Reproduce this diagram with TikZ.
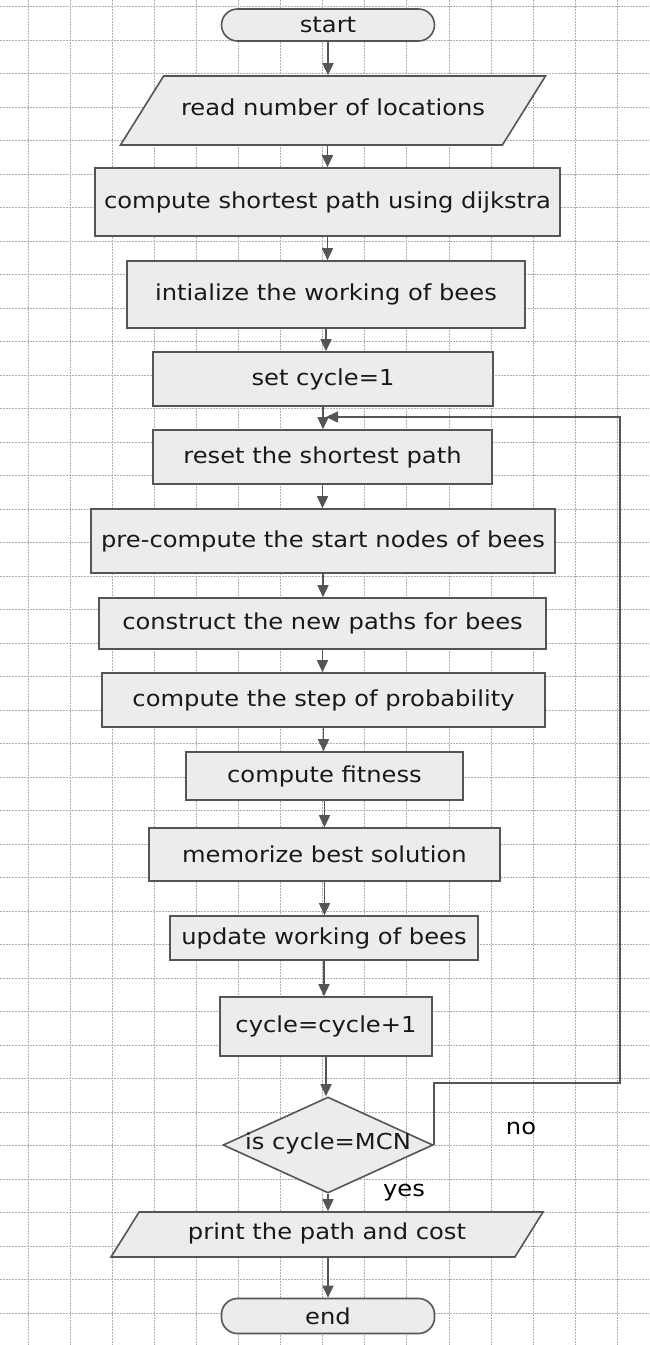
\documentclass[tikz,border=0pt]{standalone}
\usepackage{fontspec}
\setmainfont[FakeStretch=1.1]{DejaVu Sans}
\usetikzlibrary{shapes.geometric,arrows.meta}

\definecolor{boxline}{RGB}{85,85,85}
\definecolor{boxfill}{RGB}{236,236,236}
\definecolor{gridgray}{RGB}{175,175,175}

\tikzset{
  flowbox/.style={draw=boxline, line width=1.6pt, fill=boxfill, rectangle, inner sep=0pt, text=black!90},
  termbox/.style={flowbox, rounded corners=16pt, minimum width=213pt},
  iobox/.style={flowbox, trapezium, trapezium left angle=58, trapezium right angle=122, trapezium stretches body,
    inner xsep=0pt, text height=15pt, text depth=5pt},
  testbox/.style={flowbox, diamond, shape aspect=2.19, text height=12pt, text depth=3pt, minimum width=210pt, minimum height=96pt},
  flowarrow/.style={draw=boxline, line width=1.5pt, -{Triangle[width=11pt,length=12pt]}},
  gridline/.style={draw=gridgray, line width=0.6pt, dash pattern=on 1.5pt off 1.5pt},
}

\begin{document}
\begin{tikzpicture}[x=1pt, y=-1pt, font=\fontsize{22}{26}\selectfont]
	\useasboundingbox (0,0) rectangle (649,1345);
	\fill[white] (0,0) rectangle (649,1345);
	
	% background grid
	\foreach \k in {0,...,14}
	\draw[gridline] ({27.8+42.1*\k},0) -- ({27.8+42.1*\k},1345);
	\foreach \k in {0,...,40}
	\draw[gridline] (0,{6.5+33.5*\k}) -- (649,{6.5+33.5*\k});
	
	\node[termbox, minimum height=32pt] (start) at (328,25) {start};
	\node[iobox, inner ysep=24.5pt, minimum width=425pt] (read) at (333,110.5) {read number of locations};
	\node[flowbox, minimum width=465pt, minimum height=68pt] (dijkstra) at (327.5,202) {compute shortest path using dijkstra};
	\node[flowbox, minimum width=398pt, minimum height=67pt] (initbees) at (326,294.5) {intialize the working of bees};
	\node[flowbox, minimum width=340pt, minimum height=54pt] (setcycle) at (323,379) {set cycle=1};
	\node[flowbox, minimum width=339pt, minimum height=54pt] (resetpath) at (322.5,457) {reset the shortest path};
	\node[flowbox, minimum width=464pt, minimum height=64pt] (startnodes) at (323,541) {pre-compute the start nodes of bees};
	\node[flowbox, minimum width=447pt, minimum height=51pt] (newpaths) at (322.5,623.5) {construct the new paths for bees};
	\node[flowbox, minimum width=443pt, minimum height=54pt] (probstep) at (323.5,700) {compute the step of probability};
	\node[flowbox, minimum width=277pt, minimum height=48pt] (fitness) at (324.5,776) {compute fitness};
	\node[flowbox, minimum width=351pt, minimum height=53pt] (bestsol) at (324.5,854.5) {memorize best solution};
	\node[flowbox, minimum width=308pt, minimum height=44pt] (updatebees) at (324,938) {update working of bees};
	\node[flowbox, minimum width=212pt, minimum height=59pt] (nextcycle) at (326,1026.5) {cycle=cycle+1};
	\node[testbox] (mcntest) at (328,1145) {is cycle=MCN};
	\node[iobox, inner ysep=12.5pt, minimum width=432pt] (printcost) at (327,1234.5) {print the path and cost};
	\node[termbox, minimum height=35pt] (stop) at (328,1316) {end};
	
	\node (nolabel) at (521,1128) {no};
	\node (yeslabel) at (404,1193) {yes};
	
	\draw[flowarrow] (start.south) -- (start.south |- read.north);
	\draw[flowarrow] (dijkstra.north |- read.south) -- (dijkstra.north);
	\draw[flowarrow] (dijkstra.south) -- (dijkstra.south |- initbees.north);
	\draw[flowarrow] (initbees.south) -- (initbees.south |- setcycle.north);
	\draw[flowarrow] (setcycle.south) -- (setcycle.south |- resetpath.north);
	\draw[flowarrow] (resetpath.south) -- (resetpath.south |- startnodes.north);
	\draw[flowarrow] (startnodes.south) -- (startnodes.south |- newpaths.north);
	\draw[flowarrow] (newpaths.south) -- (newpaths.south |- probstep.north);
	\draw[flowarrow] (probstep.south) -- (probstep.south |- fitness.north);
	\draw[flowarrow] (fitness.south) -- (fitness.south |- bestsol.north);
	\draw[flowarrow] (bestsol.south) -- (bestsol.south |- updatebees.north);
	\draw[flowarrow] (updatebees.south) -- (updatebees.south |- nextcycle.north);
	\draw[flowarrow] (nextcycle.south) -- (nextcycle.south |- mcntest.north);
	\draw[flowarrow] (mcntest.south) -- (mcntest.south |- printcost.north);
	\draw[flowarrow] (stop.north |- printcost.south) -- (stop.north);
	
	% loop back for "no"
	\coordinate (loopbot) at (620,1083);
	\coordinate (looptop) at (620,417);
	\draw[flowarrow] (mcntest.east) |- (loopbot) -- (looptop) -- ([xshift=3pt]setcycle.south |- looptop);
\end{tikzpicture}
\end{document}
